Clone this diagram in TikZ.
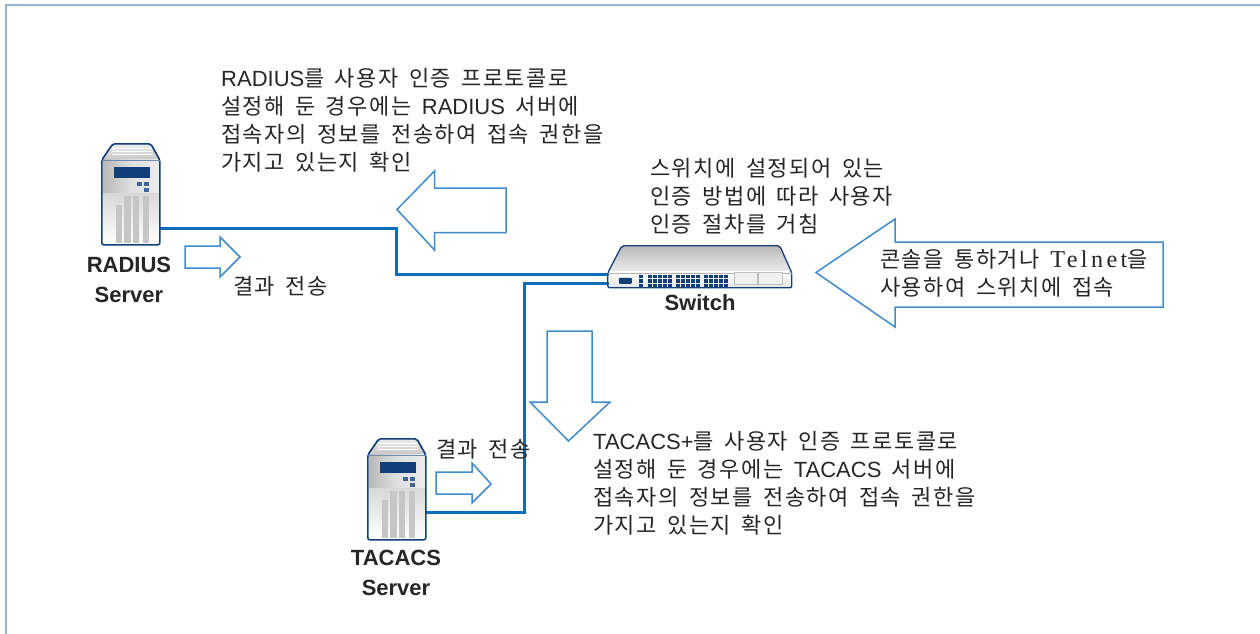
\documentclass[tikz,border=0pt]{standalone}
\usepackage{fontspec}
\setmainfont{Liberation Sans}
\newfontfamily\kr[LetterSpace=7,WordSpace=1.6]{Noto Sans CJK KR}
\newfontfamily\lat{Liberation Sans}
\newfontfamily\wideserif[Scale=1.1,LetterSpace=14]{Liberation Serif}
\usetikzlibrary{positioning, calc}
\definecolor{linkblue}{HTML}{0A6EBD}
\definecolor{arrowblue}{HTML}{3F8BCB}
\definecolor{frameblue}{HTML}{95B3D7}
\definecolor{navy}{HTML}{123F7A}
\definecolor{inktext}{HTML}{262626}
\tikzset{link/.style={draw=linkblue, line width=3pt}}
\tikzset{hollow/.style={draw=arrowblue, line width=1.5pt, fill=white, line join=miter}}
\tikzset{note/.style={anchor=north west, align=left, inner sep=0pt, text=inktext, font=\fontsize{22}{28}\selectfont\kr}}
\tikzset{devname/.style={align=center, inner sep=0pt, text=inktext, font=\fontsize{22}{29.5}\selectfont\bfseries}}
\tikzset{iconbox/.style={inner sep=0pt, minimum width=58pt, minimum height=102pt}}
\tikzset{
  servericon/.pic={
    \fill[top color=gray!15, bottom color=gray!45] (1,16) -- (11.5,1) -- (48.5,1) -- (57,16) -- cycle;
    \foreach \s in {4,7,10} \draw[white, line width=.6pt] (10,\s) -- (50,\s);
    \path[left color=gray!55, right color=gray!15, middle color=gray!25, draw=none] (1,16) rectangle (57,50);
    \path[top color=gray!30, bottom color=white, draw=none] (1,50) rectangle (57,100);
    \fill[navy] (12,23) rectangle (48,34);
    \foreach \bx/\by in {35/38,42/38,42/44} \fill[navy!80] (\bx,\by) rectangle ++(5,4);
    \foreach \bx/\by/\bw in {14/61/6,22/52/7,31/52/6,41/52/6} \fill[gray!45] (\bx,\by) rectangle ++(\bw,99-\by);
    \draw[navy, line width=1.6pt, line join=round, rounded corners=2pt]
      (0,16) -- (11,0) -- (49,0) -- (58,16) -- (58,101) -- (0,101) -- cycle;
    \draw[navy!60, line width=.5pt] (0,16) -- (58,16);
  },
  switchicon/.pic={
    \path[top color=gray!55, bottom color=gray!15, draw=none] (1,26) -- (14,0) -- (172,0) -- (183,26) -- cycle;
    \path[top color=white, bottom color=gray!20, draw=none] (1,26) rectangle (183,41);
    \draw[navy, line width=1.3pt, line join=round, rounded corners=2pt]
      (0,27) -- (14,0) -- (172,0) -- (184,27) -- (184,42) -- (0,42) -- cycle;
    \draw[gray!60, line width=.5pt] (0,27) -- (184,27);
    \fill[navy, rounded corners=1pt] (11,32) rectangle (24,38);
    \foreach \py in {29,33.5,38} {
      \fill[navy] (31,\py) rectangle ++(4,3.5);
      \foreach \gx in {40,68,96} \foreach \c in {0,1,2,3,4} \fill[navy] ({\gx+\c*5},\py) rectangle ++(4,3.5);
    }
    \draw[gray!50, fill=gray!12, line width=1pt] (127,27) rectangle (150,39);
    \draw[gray!50, fill=gray!12, line width=1pt] (151,27) rectangle (175,39);
  }
}
\begin{document}
\begin{tikzpicture}[x=1pt, y=-1pt]
  \useasboundingbox (0,0) rectangle (1260,634);
  \fill[white] (0,0) rectangle (1260,634);
  \draw[frameblue, line width=2pt] (6,634) -- (6,5) -- (1260,5);

  \node[iconbox] (radius) at (131,195) {};
  \node[iconbox] (tacacs) at (397,490) {};
  \node[inner sep=0pt, minimum width=184pt, minimum height=43pt] (switch) at (700,267.5) {};
  \coordinate (radiusport) at (160,228);
  \coordinate (tacacsport) at (426,512);
  \coordinate (switchup) at (612,274);
  \coordinate (switchdown) at (612,283.5);

  \draw[link] (radiusport) -| (396,274) -- (switchup);
  \draw[link] (switchdown) -| (524,512) -- (tacacsport);

  \pic at (radius.north west) {servericon};
  \pic at (tacacs.north west) {servericon};
  \pic at (switch.north west) {switchicon};

  \node[devname] (radiuslabel) at (129,280) {RADIUS\\Server};
  \node[devname] (tacacslabel) at (396,573) {TACACS\\Server};
  \node[devname] (switchlabel) at (700,303) {Switch};

  \draw[hollow] (397,209.5) -- (434.5,171) -- (434.5,188) -- (506,188) -- (506,232.5) -- (434.5,232.5) -- (434.5,250) -- cycle;
  \draw[hollow] (240,257) -- (220,237) -- (220,246) -- (185,246) -- (185,268) -- (220,268) -- (220,277) -- cycle;
  \draw[hollow] (816,272.5) -- (895,219) -- (895,242) -- (1163,242) -- (1163,307) -- (895,307) -- (895,327) -- cycle;
  \draw[hollow] (568.5,441) -- (530,402) -- (547,402) -- (547,331) -- (592,331) -- (592,402) -- (610,402) -- cycle;
  \draw[hollow] (491,484) -- (472,463) -- (472,472) -- (436,472) -- (436,494) -- (472,494) -- (472,503) -- cycle;

  \node[note] (radiusnote) at (221,68) {{\lat RADIUS}를 사용자 인증 프로토콜로\\설정해 둔 경우에는 {\lat RADIUS} 서버에\\접속자의 정보를 전송하여 접속 권한을\\가지고 있는지 확인};
  \node[note] (switchnote) at (650,158) {스위치에 설정되어 있는\\인증 방법에 따라 사용자\\인증 절차를 거침};
  \node[note] (consolenote) at (880,249) {콘솔을 통하거나 {\wideserif Telnet}을\\사용하여 스위치에 접속};
  \node[note] (tacacsnote) at (593,431) {{\lat TACACS+}를 사용자 인증 프로토콜로\\설정해 둔 경우에는 {\lat TACACS} 서버에\\접속자의 정보를 전송하여 접속 권한을\\가지고 있는지 확인};
  \node[note] (radiusresult) at (233,276) {결과 전송};
  \node[note] (tacacsresult) at (436,439) {결과 전송};
\end{tikzpicture}
\end{document}
